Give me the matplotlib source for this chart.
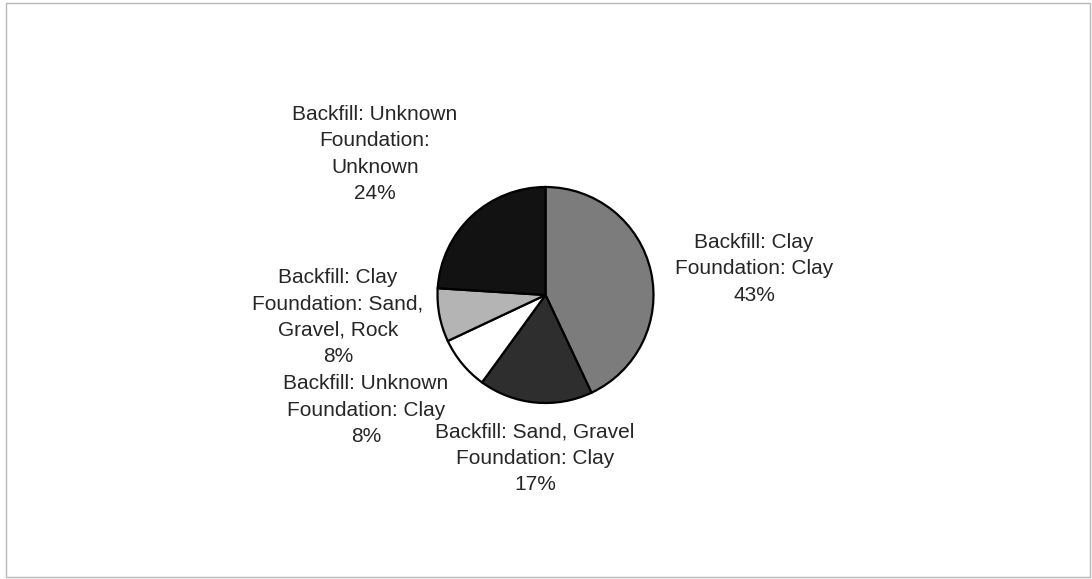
import matplotlib
matplotlib.use("Agg")
import matplotlib.pyplot as plt
from matplotlib.patches import Rectangle

# Shares of walls by backfill / foundation soil type
categories = [
    "Backfill: Clay\nFoundation: Clay",
    "Backfill: Sand, Gravel\nFoundation: Clay",
    "Backfill: Unknown\nFoundation: Clay",
    "Backfill: Clay\nFoundation: Sand,\nGravel, Rock",
    "Backfill: Unknown\nFoundation:\nUnknown",
]
values = [43, 17, 8, 8, 24]
colors = ["#7c7c7c", "#2e2e2e", "#ffffff", "#b4b4b4", "#121212"]

# label centres (x, y from top) in figure pixels
label_pos = [(754, 269), (535, 458), (366, 410), (338, 317), (375, 154)]

W, H = 1092, 579
fig = plt.figure(figsize=(W / 100, H / 100), dpi=100)
ax = fig.add_axes([0, 0, 1, 1])

ax.add_patch(Rectangle((6, 2), 1084, 574, fill=False, edgecolor="#b8b8b8", linewidth=1.0))

ax.pie(values, colors=colors, startangle=90, counterclock=False,
       center=(545.5, H - 295), radius=108, frame=True,
       wedgeprops=dict(edgecolor="black", linewidth=1.6))
ax.set_xlim(0, W)
ax.set_ylim(0, H)
ax.set_aspect("equal")
ax.axis("off")

for cat, val, (x, y) in zip(categories, values, label_pos):
    ax.text(x, H - y, f"{cat}\n{val}%", ha="center", va="center",
            fontsize=15, family="Liberation Sans", color="#262626",
            linespacing=1.5)

fig.savefig("out.png", dpi=100, facecolor="white")
